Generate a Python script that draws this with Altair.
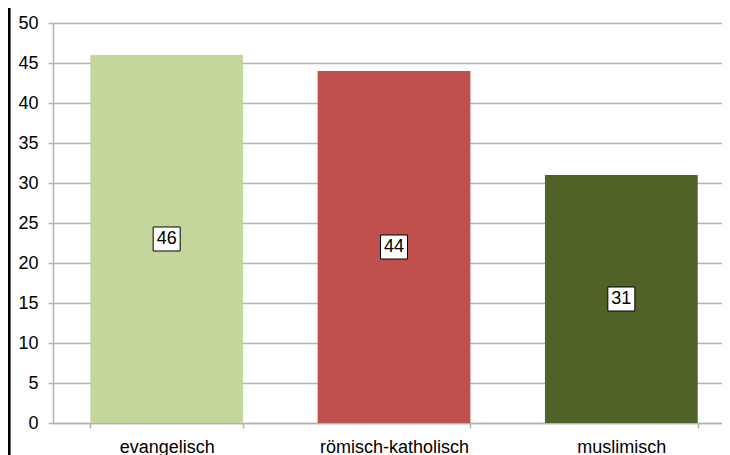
import altair as alt
import pandas as pd

categories = ["evangelisch", "römisch-katholisch", "muslimisch"]
values = [46, 44, 31]
colors = ["#C3D69B", "#C0504D", "#4F6228"]
y_ticks = [0, 5, 10, 15, 20, 25, 30, 35, 40, 45, 50]

df = pd.DataFrame({"cat": categories, "val": values, "col": colors})

GRAY = "#b3b3b3"
FONT = "Liberation Sans"
FS = 18

x_axis = alt.Axis(labelAngle=0, tickBand="extent", domainColor=GRAY, tickColor=GRAY,
                  tickSize=5, tickWidth=1.5, domainWidth=1.5, labelPadding=10,
                  labelFontSize=FS, labelColor="#000000", labelFont=FONT, grid=False)
y_axis = alt.Axis(values=y_ticks, domainColor=GRAY, tickColor=GRAY, tickSize=5,
                  tickWidth=1.5, domainWidth=1.5, gridColor=GRAY, gridWidth=1.5,
                  labelPadding=10, labelFontSize=FS, labelColor="#000000",
                  labelFont=FONT, labelOverlap=False)
x_scale = alt.Scale(paddingInner=0.328, paddingOuter=0.164)
y_scale = alt.Scale(domain=[0, 50], nice=False, zero=True)

bars = alt.Chart(df).mark_bar().encode(
    x=alt.X("cat:N", sort=categories, title=None, scale=x_scale, axis=x_axis),
    y=alt.Y("val:Q", title=None, scale=y_scale, axis=y_axis),
    color=alt.Color("col:N", scale=None),
)

base = alt.Chart(df).transform_calculate(mid="datum.val / 2")

boxes = base.mark_point(
    shape="M-1,-0.89L1,-0.89L1,0.89L-1,0.89Z", size=729, filled=True,
    fill="white", stroke="black", strokeWidth=1, opacity=1,
).encode(
    x=alt.X("cat:N", sort=categories, title=None, scale=x_scale, axis=x_axis),
    y=alt.Y("mid:Q", title=None, scale=y_scale, axis=y_axis),
)

texts = base.mark_text(fontSize=FS, font=FONT, color="black", baseline="middle").encode(
    x=alt.X("cat:N", sort=categories, title=None, scale=x_scale, axis=x_axis),
    y=alt.Y("mid:Q", title=None, scale=y_scale, axis=y_axis),
    text=alt.Text("val:Q"),
)

border = alt.Chart(df).mark_rule(color="black", strokeWidth=2.5).encode(
    x=alt.value(-44), y=alt.value(-15), y2=alt.value(432)
)

chart = alt.layer(bars, boxes, texts, border).properties(
    width=682, height=400,
    padding={"left": 45, "top": 15, "right": -13, "bottom": 32},
    autosize=alt.AutoSizeParams(type="none"),
).configure_view(strokeWidth=0)

chart.save("out.html", embed_options={"renderer": "svg", "actions": False})
